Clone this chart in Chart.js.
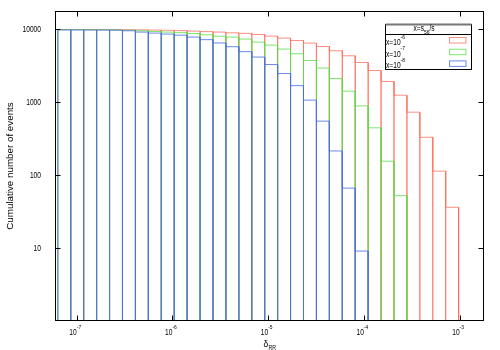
<!DOCTYPE html>
<html>
<head>
<meta charset="utf-8">
<script src="https://cdn.jsdelivr.net/npm/chart.js@4/dist/chart.umd.min.js"></script>
<style>
    html, body { margin: 0; padding: 0; background: #fff; }
</style>
</head>
<body>
<canvas id="chart" width="500" height="350"></canvas>
<script>
// bin edges of the cumulative histogram (delta_RR)
const binEdges = [6.35e-8, 8.66e-8, 1.182e-7, 1.613e-7, 2.203e-7, 3.005e-7, 4.102e-7, 5.598e-7,
    7.641e-7, 1.043e-6, 1.423e-6, 1.942e-6, 2.651e-6, 3.618e-6, 4.938e-6, 6.740e-6, 9.198e-6,
    1.2555e-5, 1.713e-5, 2.338e-5, 3.192e-5, 4.356e-5, 5.945e-5, 8.114e-5, 1.1074e-4, 1.5114e-4,
    2.063e-4, 2.815e-4, 3.842e-4, 5.244e-4, 7.157e-4, 9.768e-4];

// cumulative number of events per bin
const countsX6 = [10000, 10000, 9990, 9980, 9960, 9930, 9880, 9820, 9750, 9650, 9500, 9350, 9210,
    9000, 8850, 8540, 8115, 7620, 7060, 6500, 5840, 5100, 4350, 3520, 2730, 1930, 1250, 730, 330, 113, 36];
const countsX7 = [9960, 9950, 9930, 9900, 9860, 9760, 9600, 9390, 9210, 9050, 8800, 8450, 8070,
    7860, 7380, 6710, 6100, 5380, 4640, 3750, 2950, 2120, 1420, 890, 445, 155, 52];
const countsX8 = [9850, 9840, 9830, 9810, 9770, 9600, 9210, 8920, 8650, 8350, 7860, 7250, 6530,
    5800, 4960, 4180, 3300, 2480, 1690, 1070, 550, 214, 66, 9];

const seriesExp = ['-6', '-7', '-8'];
const seriesColors = ['rgba(255,105,85,0.75)', 'rgba(90,222,70,0.78)', 'rgba(75,110,235,0.82)'];
const xTickValues = [1e-7, 1e-6, 1e-5, 1e-4, 1e-3];
const xTickExp = ['-7', '-6', '-5', '-4', '-3'];
const yTickValues = [10, 100, 1000, 10000];
const yTickLabels = ['10', '100', '1000', '10000'];

// outline of each box, dropping back to the axis between bins (gnuplot "boxes")
function boxOutline(counts) {
    let pts = [{x: binEdges[0], y: 1}];
    for (let i = 0; i < counts.length; i++) {
        pts.push({x: binEdges[i], y: counts[i]});
        pts.push({x: binEdges[i + 1], y: counts[i]});
        pts.push({x: binEdges[i + 1], y: 1});
    }
    return pts;
}

const FONT = '"Liberation Sans", Arial, sans-serif';

// gnuplot's labels look horizontally squeezed, so draw them a bit narrow
function narrowText(ctx, text, x, y, size, align) {
    ctx.save();
    ctx.font = size + 'px ' + FONT;
    const w = ctx.measureText(text).width * 0.8;
    let x0 = x;
    if (align === 'right') x0 = x - w;
    if (align === 'center') x0 = x - w / 2;
    ctx.translate(x0, y);
    ctx.scale(0.8, 1);
    ctx.textAlign = 'left';
    ctx.textBaseline = 'alphabetic';
    ctx.fillText(text, 0, 0);
    ctx.restore();
    return w;
}

const datasets = [countsX6, countsX7, countsX8].map((c, i) => ({
    label: 'x=10^' + seriesExp[i],
    data: boxOutline(c),
    borderColor: seriesColors[i],
    borderWidth: 1,
    pointRadius: 0,
    tension: 0,
    fill: false,
    order: 3 - i
}));

const framePlugin = {
    id: 'frame',
    afterDraw: chart => {
        const ctx = chart.ctx;
        const a = chart.chartArea;
        const xs = chart.scales.x;
        const ys = chart.scales.y;
        ctx.save();
        ctx.fillStyle = '#000';
        ctx.strokeStyle = '#000';
        ctx.lineWidth = 1;

        // border
        ctx.strokeRect(a.left, a.top, a.right - a.left, a.bottom - a.top);

        // ticks on all four sides, pointing inward
        ctx.beginPath();
        xTickValues.forEach(v => {
            const px = Math.round(xs.getPixelForValue(v)) + 0.5;
            ctx.moveTo(px, a.bottom); ctx.lineTo(px, a.bottom - 5);
            ctx.moveTo(px, a.top); ctx.lineTo(px, a.top + 5);
        });
        yTickValues.forEach(v => {
            const py = Math.round(ys.getPixelForValue(v)) + 0.5;
            ctx.moveTo(a.left, py); ctx.lineTo(a.left + 5, py);
            ctx.moveTo(a.right, py); ctx.lineTo(a.right - 5, py);
        });
        ctx.stroke();

        // x tick labels 10^n
        xTickValues.forEach((v, i) => {
            const px = xs.getPixelForValue(v);
            narrowText(ctx, '10', px, a.bottom + 14, 8.3, 'right');
            narrowText(ctx, xTickExp[i], px, a.bottom + 8, 6.2, 'left');
        });

        // y tick labels
        yTickValues.forEach((v, i) => {
            const py = ys.getPixelForValue(v);
            narrowText(ctx, yTickLabels[i], 41, py + 3, 8.3, 'right');
        });

        // axis titles
        ctx.save();
        ctx.font = '9.8px ' + FONT;
        ctx.textAlign = 'center';
        ctx.textBaseline = 'middle';
        ctx.translate(10, (a.top + a.bottom) / 2);
        ctx.rotate(-Math.PI / 2);
        ctx.fillText('Cumulative number of events', 0, 0);
        ctx.restore();

        ctx.font = '8.5px ' + FONT;
        const cx = (a.left + a.right) / 2;
        ctx.textAlign = 'left';
        ctx.textBaseline = 'alphabetic';
        ctx.fillText('\u03b4', cx - 6, 346.5);
        narrowText(ctx, 'RR', cx - 1, 349.5, 6.5, 'left');

        // legend
        const L = 385.5, R = 471.5, T = 24.5, B = 69.5;
        ctx.fillStyle = '#fff';
        ctx.fillRect(L, T, R - L, B - T);
        ctx.strokeStyle = '#000';
        ctx.strokeRect(L, T, R - L, B - T);
        ctx.beginPath();
        ctx.moveTo(L, 34.5); ctx.lineTo(R, 34.5);
        ctx.stroke();
        ctx.strokeStyle = '#777';
        ctx.lineWidth = 2;
        ctx.beginPath();
        ctx.moveTo(L, T); ctx.lineTo(R, T);
        ctx.stroke();
        ctx.lineWidth = 1;

        ctx.fillStyle = '#000';
        let tx = 413.5;
        tx += narrowText(ctx, 'x=s', tx, 31, 8.3, 'left');
        tx += narrowText(ctx, '56', tx, 33.8, 6.2, 'left');
        narrowText(ctx, '/s', tx, 31, 8.3, 'left');

        seriesExp.forEach((e, i) => {
            const base = 45 + 11.7 * i;
            ctx.fillStyle = '#000';
            const w = narrowText(ctx, 'x=10', 386, base, 8.3, 'left');
            narrowText(ctx, e, 386 + w, base - 6.5, 6.2, 'left');
            ctx.strokeStyle = seriesColors[i];
            ctx.strokeRect(449.5, 37.5 + 11.7 * i, 16.5, 5.5);
        });
        ctx.restore();
    }
};

const chart = new Chart(document.getElementById('chart'), {
    type: 'line',
    data: { datasets: datasets },
    options: {
        responsive: false,
        animation: false,
        devicePixelRatio: 1,
        layout: {
            padding: { left: 55.5, right: 16.5, top: 11.5, bottom: 29.5 }
        },
        plugins: {
            legend: { display: false },
            tooltip: { enabled: false }
        },
        scales: {
            x: {
                type: 'logarithmic',
                min: 6.35e-8,
                max: 1.776e-3,
                display: false
            },
            y: {
                type: 'logarithmic',
                min: 1,
                max: 17670,
                display: false
            }
        }
    },
    plugins: [framePlugin]
});
</script>
</body>
</html>
